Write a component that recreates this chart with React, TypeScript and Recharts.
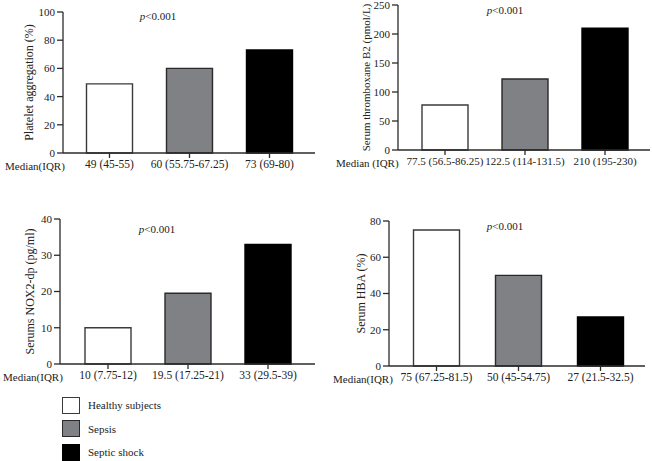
import { BarChart, Bar, Cell, XAxis, YAxis } from 'recharts';

const groups = ['Healthy subjects', 'Sepsis', 'Septic shock'];
const groupColors = ['#ffffff', '#7f8184', '#000000'];
const groupStrokes = ['#3a3a3a', '#2a2a2a', '#000000'];

const plateletMedians = [49, 60, 73];
const plateletIqr = ['49 (45-55)', '60 (55.75-67.25)', '73 (69-80)'];
const plateletTicks = [0, 20, 40, 60, 80, 100];

const txb2Medians = [77.5, 122.5, 210];
const txb2Iqr = ['77.5 (56.5-86.25)', '122.5 (114-131.5)', '210 (195-230)'];
const txb2Ticks = [0, 50, 100, 150, 200, 250];

const nox2Medians = [10, 19.5, 33];
const nox2Iqr = ['10 (7.75-12)', '19.5 (17.25-21)', '33 (29.5-39)'];
const nox2Ticks = [0, 10, 20, 30, 40];

const hbaMedians = [75, 50, 27];
const hbaIqr = ['75 (67.25-81.5)', '50 (45-54.75)', '27 (21.5-32.5)'];
const hbaTicks = [0, 20, 40, 60, 80];

const FONT = '"Liberation Serif", "DejaVu Serif", serif';
const INK = '#2b2b2b';

type PanelProps = {
  left: number;
  top: number;
  width: number;
  height: number;
  medians: number[];
  iqr: string[];
  ticks: number[];
  yLabel: string;
  prefix: string;
  prefixX: number;
  yAxisWidth: number;
  margin: { top: number; right: number; bottom: number };
  pad: { left: number; right: number };
  labelDx: number;
  labelSize: number;
  tickFont: number;
  pX: number;
  pY: number;
};

function Panel(p: PanelProps) {
  const data = groups.map((g, i) => ({ group: g, iqr: p.iqr[i], median: p.medians[i] }));
  const max = p.ticks[p.ticks.length - 1];
  return (
    <div style={{ position: 'absolute', left: p.left, top: p.top, width: p.width, height: p.height }}>
      <BarChart
        width={p.width}
        height={p.height}
        data={data}
        margin={{ top: p.margin.top, right: p.margin.right, bottom: p.margin.bottom, left: 0 }}
        barSize={46}
      >
        <XAxis
          dataKey="iqr"
          height={30}
          padding={p.pad}
          interval={0}
          tickSize={5}
          tickMargin={2}
          stroke={INK}
          strokeWidth={1.3}
          tick={{ fill: '#222', fontSize: p.tickFont, fontFamily: FONT }}
          label={{
            content: ({ viewBox }: any) => (
              <text
                x={p.prefixX}
                y={viewBox.y + 17}
                fill="#222"
                fontSize={11}
                fontFamily={FONT}
                textAnchor="start"
              >
                {p.prefix}
              </text>
            ),
          }}
        />
        <YAxis
          width={p.yAxisWidth}
          domain={[0, max]}
          ticks={p.ticks}
          interval={0}
          tickSize={6}
          tickMargin={2}
          stroke={INK}
          strokeWidth={1.3}
          tick={{ fill: '#222', fontSize: 11, fontFamily: FONT }}
          label={{
            value: p.yLabel,
            angle: -90,
            position: 'center',
            dx: p.labelDx,
            style: { fill: '#222', fontSize: p.labelSize, fontFamily: FONT },
          }}
        />
        <Bar dataKey="median" isAnimationActive={false} strokeWidth={1.4}>
          {data.map((d, i) => (
            <Cell key={d.group} fill={groupColors[i]} stroke={groupStrokes[i]} />
          ))}
        </Bar>
      </BarChart>
      <div
        style={{
          position: 'absolute',
          left: p.pX - 40,
          width: 80,
          top: p.pY - 8,
          textAlign: 'center',
          fontFamily: FONT,
          fontSize: 11,
          lineHeight: '16px',
          color: '#222',
        }}
      >
        <i>p</i>&lt;0.001
      </div>
    </div>
  );
}

export default function App() {
  return (
    <div
      style={{
        position: 'fixed',
        left: 0,
        top: 0,
        width: 652,
        height: 461,
        background: '#fff',
        overflow: 'hidden',
      }}
    >
      <Panel
        left={0}
        top={0}
        width={330}
        height={200}
        medians={plateletMedians}
        iqr={plateletIqr}
        ticks={plateletTicks}
        yLabel="Platelet aggregation (%)"
        prefix="Median(IQR)"
        prefixX={5}
        yAxisWidth={63}
        margin={{ top: 12, right: 15, bottom: 17 }}
        pad={{ left: 6.5, right: 5.5 }}
        labelDx={-3}
        labelSize={12}
        tickFont={11.5}
        pX={158}
        pY={16}
      />
      <Panel
        left={330}
        top={0}
        width={322}
        height={200}
        medians={txb2Medians}
        iqr={txb2Iqr}
        ticks={txb2Ticks}
        yLabel="Serum thromboxane B2 (pmol/L)"
        prefix="Median (IQR)"
        prefixX={6}
        yAxisWidth={68}
        margin={{ top: 5, right: 2, bottom: 20 }}
        pad={{ left: 7, right: 5 }}
        labelDx={2}
        labelSize={11}
        tickFont={11}
        pX={175}
        pY={10}
      />
      <Panel
        left={0}
        top={200}
        width={330}
        height={200}
        medians={nox2Medians}
        iqr={nox2Iqr}
        ticks={nox2Ticks}
        yLabel="Serums NOX2-dp (pg/ml)"
        prefix="Median(IQR)"
        prefixX={3}
        yAxisWidth={60}
        margin={{ top: 19, right: 15, bottom: 6 }}
        pad={{ left: 8, right: 7 }}
        labelDx={0}
        labelSize={12}
        tickFont={11.5}
        pX={157}
        pY={29}
      />
      <Panel
        left={330}
        top={200}
        width={322}
        height={200}
        medians={hbaMedians}
        iqr={hbaIqr}
        ticks={hbaTicks}
        yLabel="Serum HBA (%)"
        prefix="Median(IQR)"
        prefixX={3}
        yAxisWidth={59}
        margin={{ top: 21, right: 7, bottom: 4 }}
        pad={{ left: 6.5, right: 3.5 }}
        labelDx={1}
        labelSize={12}
        tickFont={11.5}
        pX={175}
        pY={26}
      />
      <div style={{ position: 'absolute', left: 62, top: 397, fontFamily: FONT, fontSize: 11, color: '#222' }}>
        {groups.map((g, i) => (
          <div key={g} style={{ display: 'flex', alignItems: 'center', height: 16, marginBottom: 7.5 }}>
            <span
              style={{
                display: 'inline-block',
                width: 16,
                height: 15,
                background: groupColors[i],
                border: `1px solid ${groupStrokes[i]}`,
                marginRight: 8,
              }}
            />
            <span>{g}</span>
          </div>
        ))}
      </div>
    </div>
  );
}
